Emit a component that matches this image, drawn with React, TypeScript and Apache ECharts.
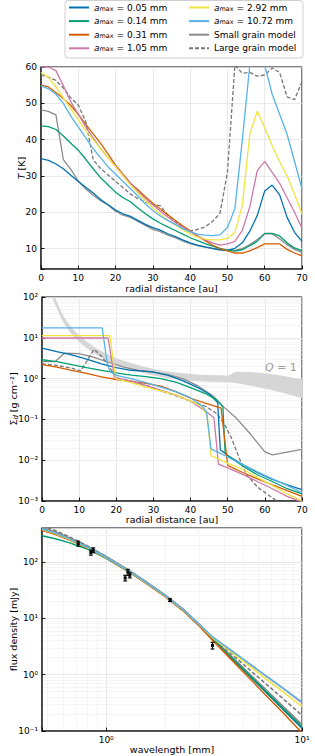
import React, { useEffect, useRef } from 'react';
import * as echarts from 'echarts';

// ---------- Panel 1: temperature vs radius ----------
const radius = [0, 2, 4, 6, 8, 10, 12, 14, 16, 18, 20, 22, 24, 26, 28, 30, 32, 34, 36, 38, 40, 42, 44, 46, 48, 50, 52, 54, 56, 58, 60, 62, 64, 66, 68, 70];
const T005 = [34.8, 34.3, 33.3, 32, 30.2, 28.5, 26.9, 25.3, 23.5, 22.1, 20.6, 19.6, 18.9, 17.8, 16.7, 15.8, 15.1, 14.1, 13.3, 12.4, 11.6, 11, 10.5, 10.1, 9.7, 9.5, 10.1, 11.6, 14.8, 19.1, 25.9, 27.5, 24.8, 18.6, 14.5, 12];
const T014 = [43.8, 43.6, 42.8, 41, 39, 37.1, 34.6, 32, 29.5, 27.5, 25.5, 24, 22.9, 21.2, 19.6, 18.2, 17, 16, 15, 14, 13, 12.2, 11.4, 10.7, 10.1, 9.6, 9.3, 9.7, 10.8, 12, 14.2, 14.2, 13.5, 11.6, 10.2, 9.4];
const T031 = [55, 54.5, 53, 51.3, 49.4, 47, 44.2, 41.6, 39, 36, 33, 30.5, 28, 26.2, 24.3, 22.5, 20.9, 19.3, 17.8, 16.3, 14.9, 13.5, 12.2, 11, 10, 9.4, 8.8, 8.8, 9.4, 10.3, 11.3, 11.3, 11.3, 9.8, 8.8, 8];
const T105 = [60, 60, 59, 54.8, 50.4, 47, 43.5, 40.5, 37.5, 35, 32.8, 30.3, 28, 25.8, 23.8, 22, 20.3, 18.7, 17.2, 15.9, 14.7, 13.5, 12.5, 11.6, 11, 11.3, 12, 15, 21.5, 31.5, 34, 31, 28, 24, 20, 15.6];
const T292 = [58.5, 57.2, 54.5, 51.5, 48.5, 45.5, 42.5, 40, 37.5, 35, 32.5, 30, 27.5, 25.3, 23.2, 21.2, 19.5, 17.9, 16.5, 15.2, 14, 13.2, 12.6, 12.4, 12.4, 12.8, 14.5, 22, 41.5, 47.8, 43.3, 38.3, 34, 30, 25, 19.5];
const T1072 = [54.8, 54, 52.5, 50, 46.5, 43.5, 40.5, 37.5, 35, 32.5, 30.5, 28.5, 26.5, 24.5, 22.3, 20.5, 19, 17.8, 16.7, 15.5, 14.6, 14, 13.7, 13.6, 13.8, 15.8, 21, 40, 60.5, 68, 60.5, 52.5, 47, 41.5, 34, 26.5];
const Tsmall = [48.2, 47.8, 46.8, 34.5, 31.8, 28.6, 26.4, 24.7, 23.2, 22, 20.3, 19.2, 18.6, 17.5, 16.4, 15.3, 14.7, 13.7, 13, 12.1, 11.4, 10.8, 10.4, 10, 9.7, 9.5, 9.5, 10, 11.1, 12.5, 14.1, 14.1, 12.7, 11.1, 9.8, 9];
const Tlarge = [57.8, 57.2, 56.3, 54.2, 51.5, 49.5, 45, 34.5, 32, 30.3, 28.5, 26.8, 25, 23.8, 22.8, 22.2, 21.8, 19.3, 17.5, 16, 14.8, 15.3, 16, 17.5, 19.7, 31, 60.5, 58.3, 58.5, 57.5, 57.8, 59.7, 58.5, 51.8, 51, 56];

// ---------- Panel 2: dust surface density [radius, sigma] ----------
const S005 = [[0, 5.6], [4, 4.6], [8, 3.8], [12, 3.0], [16, 2.3], [20, 1.85], [24, 1.6], [28, 1.5], [30, 1.45], [34, 1.2], [38, 0.88], [42, 0.6], [45, 0.42], [47.3, 0.26], [48, 0.018], [50, 0.013], [54, 0.0078], [58, 0.005], [62, 0.0034], [66, 0.0025], [70, 0.0019]];
const S014 = [[0, 2.9], [4, 2.6], [8, 2.2], [12, 1.85], [16, 1.6], [20, 1.38], [24, 1.22], [28, 1.12], [32, 1.0], [36, 0.82], [40, 0.6], [44, 0.43], [47, 0.3], [48.7, 0.2], [49.3, 0.015], [50, 0.013], [54, 0.0072], [58, 0.0044], [62, 0.003], [66, 0.002], [70, 0.0015]];
const S031 = [[0, 2.2], [4, 1.9], [8, 1.6], [12, 1.35], [16, 1.1], [20, 0.95], [24, 0.85], [28, 0.76], [32, 0.65], [36, 0.48], [40, 0.33], [44, 0.25], [48.2, 0.19], [50, 0.0075], [54, 0.005], [58, 0.0035], [62, 0.0025], [66, 0.0018], [70, 0.0013]];
const S105 = [[0, 9.9], [17.8, 9.9], [19.5, 1.05], [24, 0.88], [28, 0.68], [32, 0.52], [36, 0.4], [40, 0.28], [44, 0.16], [46.3, 0.11], [47.5, 0.008], [50, 0.0065], [54, 0.0045], [58, 0.003], [62, 0.002], [66, 0.0013], [70, 0.00095]];
const S292 = [[0, 11.3], [18.3, 11.3], [19.8, 1.0], [24, 0.8], [28, 0.62], [32, 0.5], [36, 0.4], [40, 0.28], [43, 0.21], [44.5, 0.12], [45.5, 0.013], [50, 0.0085], [54, 0.006], [58, 0.0038], [62, 0.0024], [66, 0.0015], [70, 0.001]];
const S1072 = [[0, 17.6], [16.2, 17.6], [17.6, 2.2], [18.3, 1.5], [20, 1.2], [24, 1.0], [28, 0.8], [32, 0.62], [36, 0.48], [40, 0.34], [43, 0.22], [44.3, 0.15], [45.5, 0.019], [50, 0.012], [54, 0.0078], [58, 0.0052], [62, 0.0035], [66, 0.0024], [70, 0.0016]];
const Ssmall = [[0, 2.6], [3.5, 2.6], [6, 4.2], [10, 4.1], [14, 3.3], [18, 2.5], [22, 1.9], [26, 1.6], [30, 1.45], [34, 1.25], [38, 0.98], [42, 0.66], [46, 0.38], [49, 0.2], [52, 0.115], [56, 0.045], [60, 0.016], [62, 0.0135], [70, 0.0185]];
const Slarge = [[0, 2.3], [4, 2.1], [8, 1.8], [10.5, 1.55], [11.5, 2.2], [14, 5.2], [16, 3.6], [18, 2.0], [20, 1.05], [24, 0.85], [28, 0.68], [32, 0.5], [36, 0.38], [40, 0.28], [44, 0.21], [47, 0.14], [49, 0.08], [51, 0.035], [53, 0.012], [55, 0.0045], [58, 0.0022], [62, 0.0012], [64, 0.0009], [70, 0.0004]];
// Q = 1 band
const qR = [2, 3, 4, 5, 6, 8, 10, 12, 14, 16, 18, 20, 24, 28, 32, 36, 40, 44, 48, 50, 51, 52, 56, 60, 64, 70];
const qUpper = [240, 125, 75.9, 48, 31.6, 17.4, 11.5, 8.13, 6.03, 4.68, 3.8, 3.16, 2.4, 1.91, 1.58, 1.41, 1.29, 1.23, 1.2, 1.17, 1.3, 1.48, 1.45, 1.35, 1.2, 0.95];
const qLower = [166, 87, 52.5, 33, 21.9, 12.0, 7.94, 5.62, 4.17, 3.24, 2.63, 2.19, 1.66, 1.32, 1.1, 0.98, 0.89, 0.85, 0.83, 0.81, 0.8, 0.78, 0.68, 0.57, 0.47, 0.33];

// ---------- Panel 3: SED ----------
const lam = [0.47, 0.55, 0.65, 0.8, 1.0, 1.3, 1.6, 2.0, 2.5, 3.0, 3.5, 4.0, 5.0, 6.5, 8.0, 10];
const F005 = [380, 318, 253, 181, 119, 68.5, 42.5, 24.7, 13.4, 7.35, 4.2, 2.65, 1.23, 0.5, 0.242, 0.112];
const F014 = [292, 258, 218, 170, 116, 67.5, 42.2, 24.6, 13.4, 7.35, 4.22, 2.67, 1.25, 0.51, 0.25, 0.117];
const F031 = [365, 305, 245, 177, 117, 67.5, 41.8, 24.2, 13.1, 7.15, 4.05, 2.51, 1.13, 0.44, 0.21, 0.093];
const F105 = [385, 322, 256, 183, 121, 69.5, 43.3, 25.3, 13.8, 7.65, 4.62, 3.3, 1.88, 0.96, 0.57, 0.315];
const F292 = [380, 318, 253, 181, 120, 69, 43, 25, 13.6, 7.55, 4.5, 3.15, 1.74, 0.86, 0.495, 0.272];
const F1072 = [388, 324, 257, 184, 121, 69.5, 43.3, 25.3, 13.8, 7.65, 4.65, 3.32, 1.89, 0.97, 0.575, 0.325];
const Fsmall = [400, 332, 262, 186, 122, 70, 43.5, 25.4, 13.8, 7.5, 4.3, 2.75, 1.3, 0.54, 0.268, 0.127];
const Flarge = [440, 360, 278, 193, 125, 71, 44, 25.6, 13.9, 7.6, 4.5, 3.01, 1.54, 0.7, 0.374, 0.19];
const obsLam = [0.72, 0.835, 0.859, 1.25, 1.29, 1.32, 2.12, 3.49];
const obsFlux = [212, 147, 162, 52, 66, 58, 21, 3.3];
const obsErr = [22, 15, 16, 6, 8, 6, 1.2, 0.45];

const names = ['amax = 0.05 mm', 'amax = 0.14 mm', 'amax = 0.31 mm', 'amax = 1.05 mm', 'amax = 2.92 mm', 'amax = 10.72 mm', 'Small grain model', 'Large grain model'];
const colors = ['#0072B2', '#009E73', '#D55E00', '#CC79A7', '#F0E442', '#56B4E9', '#8c8c8c', '#777777'];

const FONT = 'DejaVu Sans';
const SUP: Record<string, string> = { '-': '⁻', '0': '⁰', '1': '¹', '2': '²', '3': '³', '4': '⁴', '5': '⁵', '6': '⁶', '7': '⁷', '8': '⁸', '9': '⁹' };
function powLabel(v: number) {
  const l = Math.log10(v);
  const e = Math.round(l);
  if (Math.abs(l - e) > 1e-6) return '';
  return '10' + String(e).split('').map((c) => SUP[c]).join('');
}

const richBase = {
  n: { fontSize: 9.5, fontFamily: FONT, color: '#000', lineHeight: 12 },
  i: { fontSize: 9.5, fontFamily: FONT, fontStyle: 'italic', color: '#000', lineHeight: 12 },
  s: { fontSize: 7, fontFamily: FONT, fontStyle: 'italic', color: '#000', verticalAlign: 'bottom', lineHeight: 8 },
};

function axisBase() {
  return {
    axisLine: { show: true, onZero: false, lineStyle: { color: '#333', width: 1.6 } },
    axisTick: { show: true, inside: true, length: 3.5, lineStyle: { color: '#000', width: 0.9 } },
    axisLabel: { color: '#000', fontSize: 9, fontFamily: FONT, margin: 4 },
    splitLine: { show: true, lineStyle: { color: '#e3e3e3', width: 0.8 } },
    nameLocation: 'middle',
    nameMoveOverlap: false,
    nameTextStyle: { color: '#000', fontSize: 9.5, fontFamily: FONT, rich: richBase },
  };
}

function minorLines(decades: number[], max: number, min: number) {
  const out: number[] = [];
  decades.forEach((k) => {
    for (let m = 2; m <= 9; m++) {
      const v = m * Math.pow(10, k);
      if (v > min && v < max) out.push(v);
    }
  });
  return out;
}

const minorStyle = { color: '#efefef', width: 0.6, type: 'solid' as const };

function helperMarkLine(grid: number, ys: number[], xs: number[]) {
  return {
    type: 'line',
    xAxisIndex: grid,
    yAxisIndex: grid,
    data: [],
    z: 0,
    silent: true,
    markLine: {
      silent: true,
      z: 0,
      symbol: ['none', 'none'],
      label: { show: false },
      lineStyle: minorStyle,
      animation: false,
      data: [...ys.map((v) => ({ yAxis: v })), ...xs.map((v) => ({ xAxis: v }))],
    },
  };
}

function line(i: number, data: number[][], grid: number, width = 1.3) {
  const dashed = i === 7;
  return {
    type: 'line',
    name: names[i],
    xAxisIndex: grid,
    yAxisIndex: grid,
    data,
    showSymbol: false,
    symbol: 'none',
    clip: true,
    z: i >= 6 ? 3 : 4,
    lineStyle: { color: colors[i], width, type: dashed ? [4, 2] : 'solid' },
    itemStyle: { color: colors[i] },
    emphasis: { disabled: true },
  };
}

const tempSets = [T005, T014, T031, T105, T292, T1072, Tsmall, Tlarge];
const sigSets = [S005, S014, S031, S105, S292, S1072, Ssmall, Slarge];
const fluxSets = [F005, F014, F031, F105, F292, F1072, Fsmall, Flarge];

function legendFormatter(name: string) {
  if (name.startsWith('amax')) return '{i|a}{s|max}{n|' + name.slice(4) + '}';
  return '{n|' + name + '}';
}

const legendRich = {
  n: { fontSize: 9, fontFamily: FONT, color: '#000' },
  i: { fontSize: 9, fontFamily: FONT, fontStyle: 'italic', color: '#000' },
  s: { fontSize: 6.5, fontFamily: FONT, color: '#000', verticalAlign: 'bottom', lineHeight: 6 },
};

function buildOption() {
  const series: any[] = [];
  series.push(helperMarkLine(1, minorLines([-3, -2, -1, 0, 1], 100, 0.001), []));
  series.push(helperMarkLine(2, minorLines([-1, 0, 1, 2], 400, 0.1), minorLines([-1, 0], 10, 0.47)));
  series.push({
    type: 'custom',
    xAxisIndex: 1,
    yAxisIndex: 1,
    clip: true,
    z: 2,
    silent: true,
    data: qR.map((r, i) => [r, qLower[i], qUpper[i]]),
    encode: { x: 0, y: [1, 2] },
    renderItem: (params: any, api: any) => {
      if (params.dataIndex !== 0) return null;
      const pts: number[][] = [];
      qR.forEach((r, i) => pts.push(api.coord([r, qUpper[i]])));
      for (let i = qR.length - 1; i >= 0; i--) pts.push(api.coord([qR[i], qLower[i]]));
      return { type: 'polygon', shape: { points: pts }, style: { fill: '#d6d6d6' } };
    },
  });
  const order = [6, 7, 0, 1, 2, 3, 4, 5];
  order.forEach((i) => {
    series.push(line(i, radius.map((r, k) => [r, tempSets[i][k]]), 0));
  });
  order.forEach((i) => {
    series.push(line(i, sigSets[i], 1));
  });
  order.forEach((i) => {
    series.push(line(i, lam.map((l, k) => [l, fluxSets[i][k]]), 2, i === 6 ? 2.6 : 1.5));
  });
  series.push({
    type: 'custom',
    xAxisIndex: 2,
    yAxisIndex: 2,
    z: 10,
    silent: true,
    data: obsLam.map((l, i) => [l, obsFlux[i], obsErr[i]]),
    encode: { x: 0, y: 1 },
    renderItem: (params: any, api: any) => {
      const x = api.value(0);
      const y = api.value(1);
      const e = api.value(2);
      const p = api.coord([x, y]);
      const lo = api.coord([x, y - e]);
      const hi = api.coord([x, y + e]);
      const st = { stroke: '#000', lineWidth: 1.1 };
      return {
        type: 'group',
        children: [
          { type: 'line', shape: { x1: p[0], y1: lo[1], x2: p[0], y2: hi[1] }, style: st },
          { type: 'line', shape: { x1: p[0] - 2, y1: lo[1], x2: p[0] + 2, y2: lo[1] }, style: st },
          { type: 'line', shape: { x1: p[0] - 2, y1: hi[1], x2: p[0] + 2, y2: hi[1] }, style: st },
          { type: 'rect', shape: { x: p[0] - 1.5, y: p[1] - 1.5, width: 3, height: 3 }, style: { fill: '#000' } },
        ],
      };
    },
  });

  const legendCommon = {
    orient: 'vertical',
    top: 3,
    itemWidth: 20,
    itemHeight: 10,
    itemGap: 4.6,
    padding: 0,
    selectedMode: false,
    itemStyle: { opacity: 0 },
    formatter: legendFormatter,
    textStyle: { fontFamily: FONT, fontSize: 9, rich: legendRich },
  };

  return {
    animation: false,
    backgroundColor: '#fff',
    textStyle: { fontFamily: FONT },
    legend: [
      { ...legendCommon, left: 68, data: names.slice(0, 4) },
      { ...legendCommon, left: 188, data: names.slice(4, 8) },
    ],
    graphic: [
      {
        type: 'rect',
        shape: { x: 65, y: 0.5, width: 238, height: 57.5, r: 3 },
        style: { fill: 'rgba(255,255,255,0.8)', stroke: '#d0d0d0', lineWidth: 1 },
        z: -1,
      },
      {
        type: 'text',
        x: 265,
        y: 362,
        style: {
          text: '{i|Q}{n| = 1}',
          rich: {
            i: { fontSize: 11, fontFamily: FONT, fontStyle: 'italic', fill: '#9a9a9a' },
            n: { fontSize: 11, fontFamily: FONT, fill: '#9a9a9a' },
          },
        },
        z: 5,
      },
    ],
    grid: [
      { left: 41, top: 67, width: 261, height: 202, show: true, borderColor: '#000', borderWidth: 1, backgroundColor: 'transparent' },
      { left: 41, top: 297, width: 261, height: 204, show: true, borderColor: '#000', borderWidth: 1, backgroundColor: 'transparent' },
      { left: 41, top: 528, width: 261, height: 203, show: true, borderColor: '#000', borderWidth: 1, backgroundColor: 'transparent' },
    ],
    xAxis: [
      { ...axisBase(), type: 'value', gridIndex: 0, min: 0, max: 70, interval: 10, name: 'radial distance [au]', nameGap: 14 },
      { ...axisBase(), type: 'value', gridIndex: 1, min: 0, max: 70, interval: 10, name: 'radial distance [au]', nameGap: 13 },
      {
        ...axisBase(),
        type: 'log',
        logBase: 10,
        gridIndex: 2,
        min: 0.47,
        max: 10,
        name: 'wavelength [mm]',
        nameGap: 13,
        axisLabel: { ...axisBase().axisLabel, formatter: (v: number) => powLabel(v) },
      },
    ],
    yAxis: [
      {
        ...axisBase(),
        type: 'value',
        gridIndex: 0,
        min: 4.4,
        max: 60,
        name: '{i|T}{n| [K]}',
        nameGap: 14,
        axisLabel: { ...axisBase().axisLabel, formatter: (v: number) => (Math.abs(v / 10 - Math.round(v / 10)) < 1e-6 ? String(v) : '') },
      },
      {
        ...axisBase(),
        type: 'log',
        logBase: 10,
        gridIndex: 1,
        min: 0.001,
        max: 100,
        name: '{n|Σ}{s|d}{n| [g cm⁻²]}',
        nameGap: 23,
        axisLabel: { ...axisBase().axisLabel, formatter: (v: number) => powLabel(v) },
      },
      {
        ...axisBase(),
        type: 'log',
        logBase: 10,
        gridIndex: 2,
        min: 0.1,
        max: 400,
        name: 'flux density [mJy]',
        nameGap: 24,
        axisLabel: { ...axisBase().axisLabel, formatter: (v: number) => powLabel(v) },
      },
    ],
    series,
  };
}

export default function App() {
  const ref = useRef<HTMLDivElement>(null);
  useEffect(() => {
    const chart = echarts.init(ref.current!, null, { renderer: 'svg' });
    chart.setOption(buildOption() as any);
    return () => chart.dispose();
  }, []);
  return <div ref={ref} style={{ position: 'absolute', left: 0, top: 0, width: 315, height: 756 }} />;
}
